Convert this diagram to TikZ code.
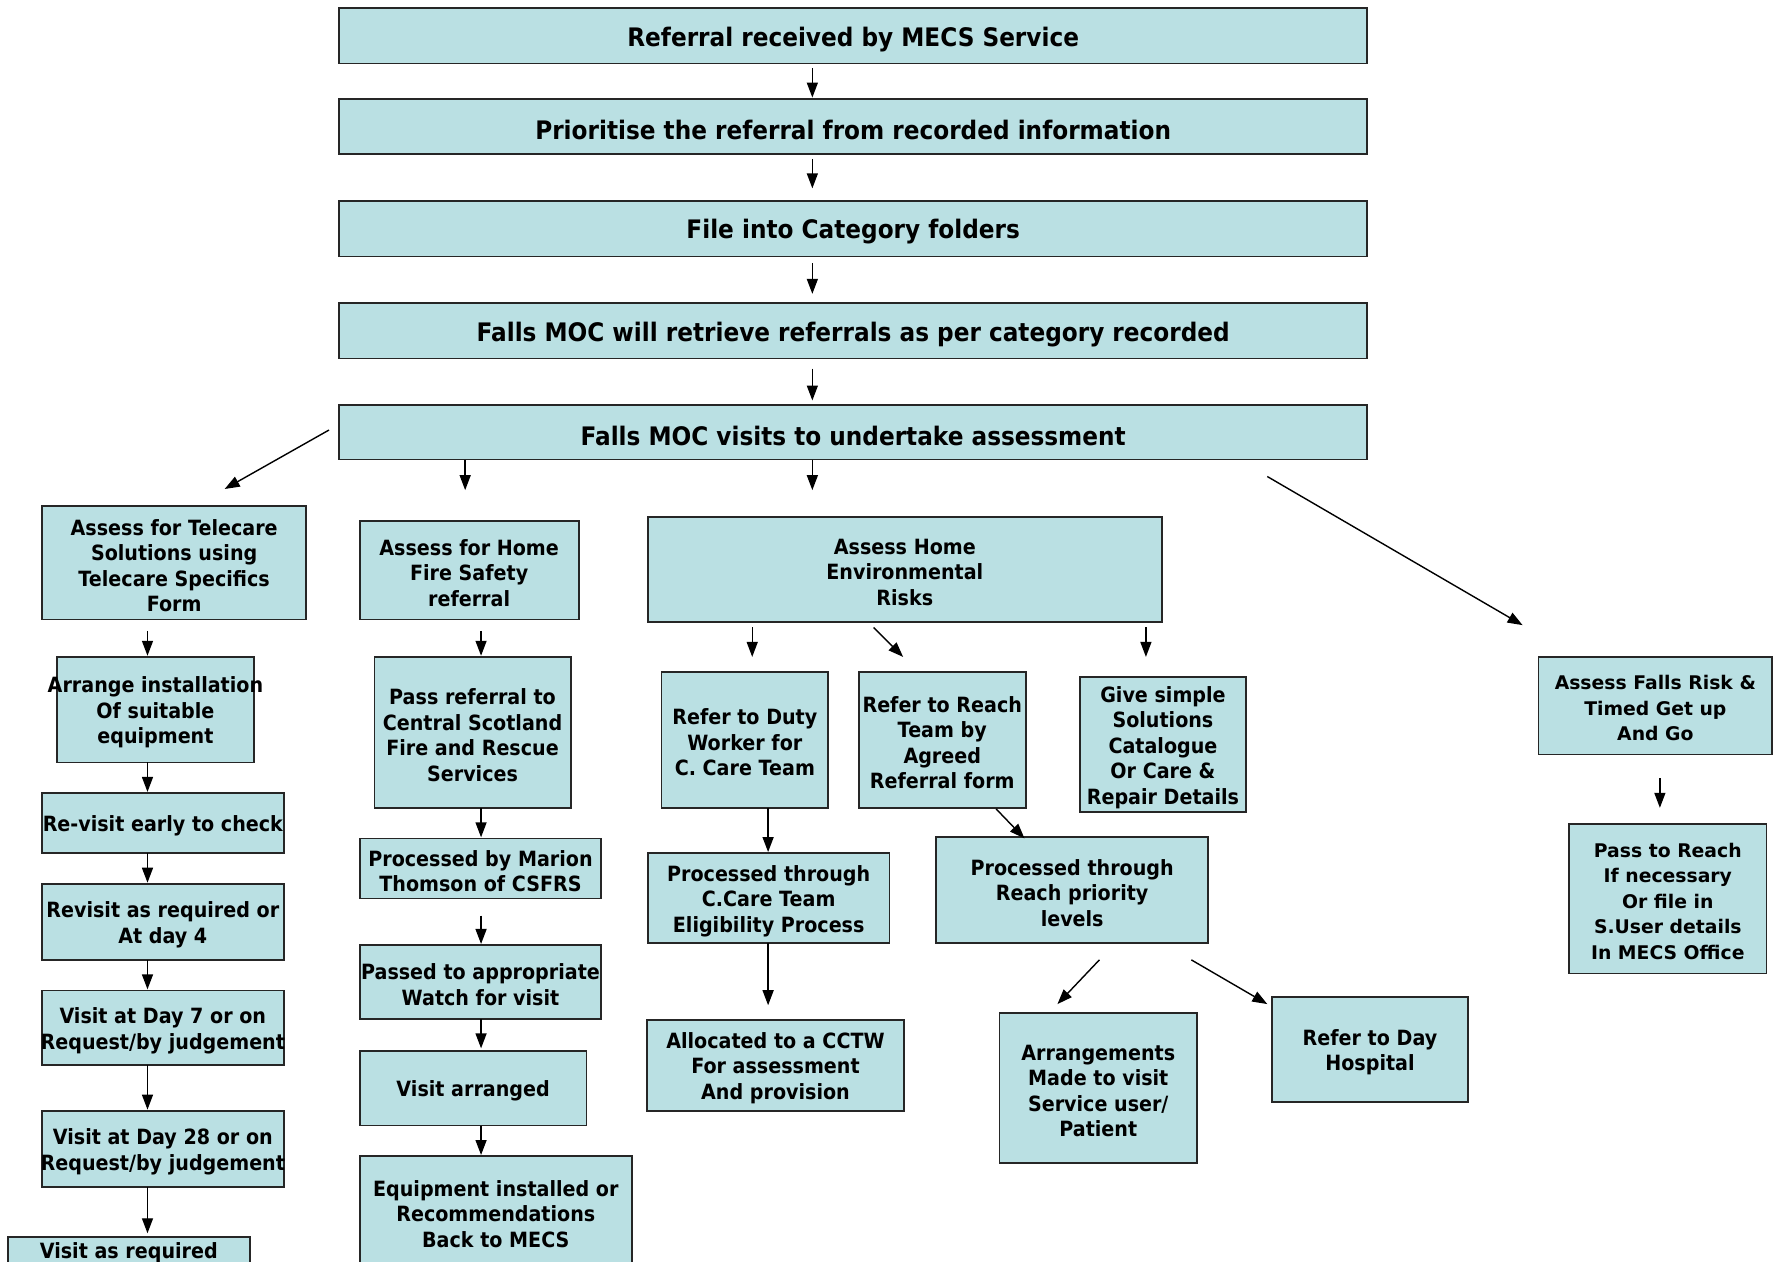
\documentclass[tikz,border=0pt]{standalone}
\usepackage{fontspec}
\setmainfont{DejaVu Sans}
\newfontfamily\tah{DejaVu Sans}[FakeStretch=0.91]
\newfontfamily\verd{DejaVu Sans}
\usetikzlibrary{arrows.meta}
\definecolor{boxfill}{RGB}{186,224,227}
\tikzset{
  box/.style={draw=black!85, fill=boxfill, line width=1.8pt, inner sep=0pt, rectangle},
  txt/.style={inner sep=0pt, align=center, yshift=-2.8pt, font=\tah\bfseries\fontsize{21}{25.5}\selectfont},
  toptxt/.style={inner sep=0pt, align=center, yshift=-3.4pt, font=\tah\bfseries\fontsize{25.5}{30}\selectfont},
  vtxt/.style={inner sep=0pt, align=center, yshift=-2.5pt, font=\verd\bfseries\fontsize{18.8}{25.5}\selectfont},
  arr/.style={line width=1.4pt, -{Triangle[length=15pt,width=11pt]}},
}
% box: name, x1, y1, x2, y2, text style, text
\newcommand\bx[7]{%
  \node[box, minimum width={(#4-#2)*1.1346pt}, minimum height={(#5-#3)*1.1346pt}] (#1) at ({(#2+#4)/2},{(#3+#5)/2}) {};
  \node[#6] (#1-t) at (#1.center) {#7};}
% arrow: name, x1, y1, x2, y2
\newcommand\ar[5]{%
  \coordinate (#1-s) at (#2,#3); \coordinate (#1-e) at (#4,#5);
  \draw[arr] (#1-s) -- (#1-e);}
\begin{document}
\begin{tikzpicture}[x=1.1346pt, y=-1.1346pt]
\clip (0,0) rectangle (1568,1112);
\fill[white] (0,0) rectangle (1568,1112);
% top column
\bx{b1}{299}{7}{1205}{56}{toptxt}{Referral received by MECS Service}
\bx{b2}{299}{87}{1205}{136}{toptxt}{Prioritise the referral from recorded information}
\bx{b3}{299}{177}{1205}{226}{toptxt}{File into Category folders}
\bx{b4}{299}{267}{1205}{316}{toptxt}{Falls MOC will retrieve referrals as per category recorded}
\bx{b5}{299}{357}{1205}{405}{toptxt}{Falls MOC visits to undertake assessment}
\ar{a1}{716}{60}{716}{86}
\ar{a2}{716}{140}{716}{166}
\ar{a3}{716}{232}{716}{259}
\ar{a4}{716}{325}{716}{353}
\ar{a5}{290}{379}{198}{431}
\ar{a6}{410}{405}{410}{432}
\ar{a7}{716}{405}{716}{432}
\ar{a8}{1117}{420}{1342}{551}
% left column
\bx{l1}{37}{446}{270}{546}{txt}{Assess for Telecare\\Solutions using\\Telecare Specifics\\Form}
\bx{l2}{50}{579}{224}{672}{txt}{Arrange installation\\Of suitable\\equipment}
\bx{l3}{37}{699}{250}{752}{txt}{Re-visit early to check}
\bx{l4}{37}{779}{250}{846}{txt}{Revisit as required or\\At day 4}
\bx{l5}{37}{873}{250}{939}{txt}{Visit at Day 7 or on\\Request/by judgement}
\bx{l6}{37}{979}{250}{1046}{txt}{Visit at Day 28 or on\\Request/by judgement}
\node[box, minimum width={213*1.1346pt}, minimum height={40*1.1346pt}] (l7) at (113.5,1110) {};
\node[txt] (l7-t) at (113.5,1102) {Visit as required};
\ar{c1}{130}{556}{130}{578}
\ar{c2}{130}{672}{130}{698}
\ar{c3}{130}{752}{130}{778}
\ar{c4}{130}{846}{130}{872}
\ar{c5}{130}{939}{130}{978}
\ar{c6}{130}{1046}{130}{1087}
% second column
\bx{m1}{317}{459}{510}{546}{txt}{Assess for Home\\Fire Safety\\referral}
\bx{m2}{330}{579}{503}{712}{txt}{Pass referral to\\Central Scotland\\Fire and Rescue\\Services}
\bx{m3}{317}{739}{530}{792}{txt}{Processed by Marion\\Thomson of CSFRS}
\bx{m4}{317}{833}{530}{898}{txt}{Passed to appropriate\\Watch for visit}
\bx{m5}{317}{926}{517}{992}{txt}{Visit arranged}
\bx{m6}{317}{1019}{557}{1116}{txt}{Equipment installed or\\Recommendations\\Back to MECS}
\ar{d1}{424}{556}{424}{578}
\ar{d2}{424}{712}{424}{738}
\ar{d3}{424}{807}{424}{832}
\ar{d4}{424}{898}{424}{924}
\ar{d5}{424}{992}{424}{1018}
% third column
\bx{e1}{571}{456}{1024}{548}{txt}{Assess Home\\Environmental\\Risks}
\bx{e2}{583}{592}{730}{712}{txt}{Refer to Duty\\Worker for\\C. Care Team}
\bx{e3}{757}{592}{904}{712}{txt}{Refer to Reach\\Team by\\Agreed\\Referral form}
\bx{e4}{952}{597}{1098}{716}{txt}{Give simple\\Solutions\\Catalogue\\Or Care \&\\Repair Details}
\bx{e5}{571}{752}{784}{831}{txt}{Processed through\\C.Care Team\\Eligibility Process}
\bx{e6}{570}{899}{797}{979}{txt}{Allocated to a CCTW\\For assessment\\And provision}
\bx{e7}{825}{738}{1065}{831}{txt}{Processed through\\Reach priority\\levels}
\bx{e8}{881}{893}{1055}{1025}{txt}{Arrangements\\Made to visit\\Service user/\\Patient}
\bx{e9}{1121}{879}{1294}{971}{txt}{Refer to Day\\Hospital}
\ar{f1}{663}{553}{663}{579}
\ar{f2}{770}{553}{796}{579}
\ar{f3}{1010}{553}{1010}{579}
\ar{f4}{677}{712}{677}{751}
\ar{f5}{677}{831}{677}{886}
\ar{f6}{878}{713}{903}{739}
\ar{f7}{969}{846}{932}{885}
\ar{f8}{1050}{846}{1117}{885}
% right column
\bx{r1}{1356}{579}{1562}{665}{vtxt}{Assess Falls Risk \&\\Timed Get up\\And Go}
\bx{r2}{1383}{726}{1557}{858}{vtxt}{Pass to Reach\\If necessary\\Or file in\\S.User details\\In MECS Office}
\ar{g1}{1463}{686}{1463}{712}
\end{tikzpicture}
\end{document}
